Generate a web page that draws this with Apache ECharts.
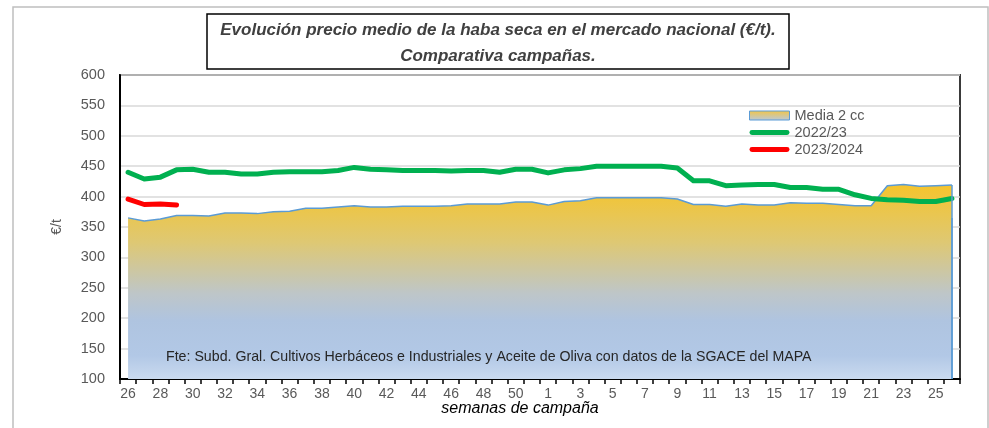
<!DOCTYPE html>
<html>
<head>
<meta charset="utf-8">
<script src="https://cdn.jsdelivr.net/npm/echarts@6/dist/echarts.min.js"></script>
<style>
  html, body { margin: 0; padding: 0; background: #fff; }
  #chart { width: 989px; height: 428px; }
</style>
</head>
<body>
<div id="chart"></div>
<script>
// semanas de campaña: 26..51 y 1..26
var semanas = ['26','27','28','29','30','31','32','33','34','35','36','37','38','39','40','41','42','43','44','45','46','47','48','49','50','51',
               '1','2','3','4','5','6','7','8','9','10','11','12','13','14','15','16','17','18','19','20','21','22','23','24','25','26'];

var media2cc = [365, 360, 363, 369, 369, 368, 373, 373, 372, 375, 376, 381, 381, 383, 385, 383, 383, 384, 384, 384, 385, 388, 388, 388, 391, 391,
                386, 392, 393, 398, 398, 398, 398, 398, 396, 387, 387, 384, 388, 386, 386, 390, 389, 389, 387, 385, 385, 418, 420, 417, 418, 419];

var c2022 = [440, 429, 432, 444, 445, 440, 440, 437, 437, 440, 441, 441, 441, 443, 448, 445, 444, 443, 443, 443, 442, 443, 443, 440, 445, 445,
             439, 444, 446, 450, 450, 450, 450, 450, 447, 426, 426, 418, 419, 420, 420, 415, 415, 412, 412, 403, 397, 395, 394, 392, 392, 397];

var c2023 = [396, 387, 388, 386];

var yMin = 100, yMax = 600, yStep = 50;

var fondoArea = new echarts.graphic.LinearGradient(0, 0, 0, 1, [
    { offset: 0, color: '#F5C42C' },
    { offset: 0.3, color: '#DEC874' },
    { offset: 0.56, color: '#BEC6C8' },
    { offset: 0.7, color: '#AFC4E0' },
    { offset: 0.88, color: '#B2C8E6' },
    { offset: 1, color: '#CADAEF' }
]);
var iconoArea = new echarts.graphic.LinearGradient(0, 0, 0, 1, [
    { offset: 0, color: '#F3C544' },
    { offset: 1, color: '#B9C9DC' }
]);
var iconoLinea = 'path://M2,0 H38 A2.5,2.5 0 0 1 38,5 H2 A2.5,2.5 0 0 1 2,0 Z';

var myChart = echarts.init(document.getElementById('chart'));

option = {
    animation: false,
    textStyle: { fontFamily: 'Liberation Sans' },
    grid: {
        left: 120, right: 29, top: 75, bottom: 49,
        show: true,
        borderColor: '#3a3a3a',
        borderWidth: 2
    },
    legend: {
        orient: 'vertical',
        left: 744,
        top: 103,
        itemWidth: 40,
        itemHeight: 9,
        itemGap: 2,
        symbolKeepAspect: true,
        textStyle: { fontSize: 14.5, color: '#595959' },
        data: [
            { name: 'Media 2 cc', icon: 'rect', itemStyle: { color: iconoArea, borderColor: '#5B9BD5', borderWidth: 1 } },
            { name: '2022/23', icon: iconoLinea, itemStyle: { color: '#00B050' } },
            { name: '2023/2024', icon: iconoLinea, itemStyle: { color: '#FF0000' } }
        ]
    },
    xAxis: {
        type: 'category',
        data: semanas,
        boundaryGap: true,
        axisLine: { lineStyle: { color: '#000', width: 2 } },
        axisTick: { show: true, interval: 0, length: 5, lineStyle: { color: '#000', width: 1.5 } },
        axisLabel: { interval: 1, margin: 8, fontSize: 14, color: '#595959' },
        splitLine: { show: false }
    },
    yAxis: {
        type: 'value',
        min: yMin, max: yMax, interval: yStep,
        name: '€/t',
        nameLocation: 'middle',
        nameGap: 56,
        nameTextStyle: { fontSize: 14, color: '#595959' },
        axisLine: { show: true, lineStyle: { color: '#000', width: 2 } },
        axisTick: { show: false },
        axisLabel: { fontSize: 14.5, color: '#595959', margin: 15 },
        splitLine: { lineStyle: { color: '#D9D9D9', width: 1.5 } }
    },
    series: [
        {
            name: 'Media 2 cc',
            type: 'line',
            data: media2cc,
            symbol: 'none',
            z: 1,
            lineStyle: { color: '#5B9BD5', width: 1.5 },
            itemStyle: { color: '#5B9BD5' },
            areaStyle: { color: fondoArea, opacity: 1, origin: 'start' },
            markLine: {
                silent: true,
                symbol: 'none',
                label: { show: false },
                lineStyle: { color: '#5B9BD5', width: 1.5, type: 'solid' },
                data: [
                    [{ coord: [semanas[0], yMin] }, { coord: [semanas[0], media2cc[0]] }],
                    [{ coord: [semanas.length - 1, yMin] }, { coord: [semanas.length - 1, media2cc[media2cc.length - 1]] }]
                ]
            }
        },
        {
            name: '2022/23',
            type: 'line',
            data: c2022,
            symbol: 'none',
            z: 3,
            lineStyle: { color: '#00B050', width: 5, join: 'round', cap: 'round' },
            itemStyle: { color: '#00B050' }
        },
        {
            name: '2023/2024',
            type: 'line',
            data: c2023,
            symbol: 'none',
            z: 4,
            lineStyle: { color: '#FF0000', width: 5, join: 'round', cap: 'round' },
            itemStyle: { color: '#FF0000' }
        }
    ],
    graphic: [
        {
            type: 'rect',
            silent: true,
            z: -10,
            shape: { x: 13, y: 7, width: 975, height: 440 },
            style: { fill: 'none', stroke: '#BFBFBF', lineWidth: 1.5 }
        },
        {
            type: 'rect',
            silent: true,
            shape: { x: 207, y: 14, width: 582, height: 55 },
            style: { fill: '#fff', stroke: '#000', lineWidth: 1.5 }
        },
        {
            type: 'text',
            silent: true,
            style: {
                x: 498, y: 30,
                text: 'Evolución precio medio de la haba seca en el mercado nacional (€/t).',
                fontSize: 17, fontStyle: 'italic', fontWeight: 'bold',
                fontFamily: 'Liberation Sans', fill: '#404040',
                align: 'center', verticalAlign: 'middle'
            }
        },
        {
            type: 'text',
            silent: true,
            style: {
                x: 498, y: 56,
                text: 'Comparativa campañas.',
                fontSize: 17, fontStyle: 'italic', fontWeight: 'bold',
                fontFamily: 'Liberation Sans', fill: '#404040',
                align: 'center', verticalAlign: 'middle'
            }
        },
        {
            type: 'text',
            silent: true,
            z: 10,
            style: {
                x: 166, y: 357,
                text: 'Fte: Subd. Gral. Cultivos Herbáceos e Industriales y Aceite de Oliva con datos de la SGACE del MAPA',
                fontSize: 14.2, fontFamily: 'Liberation Sans', fill: '#262626',
                align: 'left', verticalAlign: 'middle'
            }
        },
        {
            type: 'text',
            silent: true,
            style: {
                x: 520, y: 409,
                text: 'semanas de campaña',
                fontSize: 16, fontStyle: 'italic', fontFamily: 'Liberation Sans', fill: '#000',
                align: 'center', verticalAlign: 'middle'
            }
        }
    ]
};

myChart.setOption(option);
</script>
</body>
</html>
